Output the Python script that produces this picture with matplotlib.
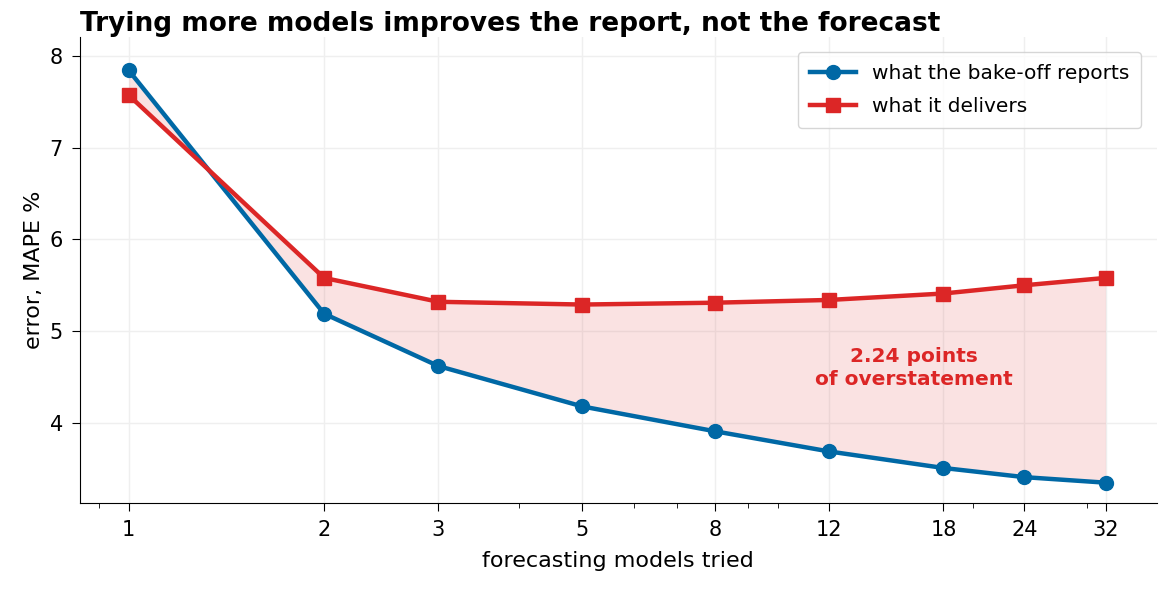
import matplotlib
matplotlib.use("Agg")
import matplotlib.pyplot as plt
from matplotlib.ticker import FixedLocator, FixedFormatter, LogLocator, NullFormatter

models = [1, 2, 3, 5, 8, 12, 18, 24, 32]
reported = [7.84, 5.19, 4.62, 4.18, 3.91, 3.69, 3.51, 3.41, 3.35]
delivered = [7.57, 5.58, 5.32, 5.29, 5.31, 5.34, 5.41, 5.50, 5.58]
tick_labels = ["1", "2", "3", "5", "8", "12", "18", "24", "32"]

blue = "#0068a5"
red = "#dc2626"

fig = plt.figure(figsize=(11.71, 5.93), dpi=100)
ax = fig.add_axes([0.068, 0.152, 0.92, 0.785])
ax.fill_between(models, reported, delivered, color=red, alpha=0.13, lw=0)
ax.plot(models, reported, color=blue, lw=3.2, marker="o", ms=10, label="what the bake-off reports")
ax.plot(models, delivered, color=red, lw=3.2, marker="s", ms=10, label="what it delivers")
ax.set_xscale("log", base=2)
ax.set_xlim(0.84, 38.4)
ax.set_ylim(3.13, 8.2)
ax.xaxis.set_major_locator(FixedLocator(models))
ax.xaxis.set_major_formatter(FixedFormatter(tick_labels))
ax.xaxis.set_minor_locator(LogLocator(base=10, subs=range(1, 10)))
ax.xaxis.set_minor_formatter(NullFormatter())
ax.set_yticks([4, 5, 6, 7, 8])
ax.tick_params(labelsize=15, length=6, pad=6)
ax.tick_params(which="minor", length=3.5)
ax.grid(True, color="#efefef", lw=1)
ax.set_axisbelow(True)
for s in ["top", "right"]:
    ax.spines[s].set_visible(False)
ax.set_xlabel("forecasting models tried", fontsize=16, labelpad=8)
ax.set_ylabel("error, MAPE %", fontsize=16)
ax.set_title("Trying more models improves the report, not the forecast", fontsize=19,
             fontweight="bold", loc="left", x=-0.0, pad=-2)
ax.text(16.2, 4.6, f"{delivered[-1]-reported[-1]+0.01:.2f} points\nof overstatement", color=red,
        fontsize=14.5, fontweight="bold", ha="center", va="center", linespacing=1.3)
ax.legend(loc="upper right", bbox_to_anchor=(0.995, 0.99), fontsize=14.5, frameon=True,
          handlelength=2.3, labelspacing=0.7, borderpad=0.6)
fig.savefig("out.png", dpi=100)
